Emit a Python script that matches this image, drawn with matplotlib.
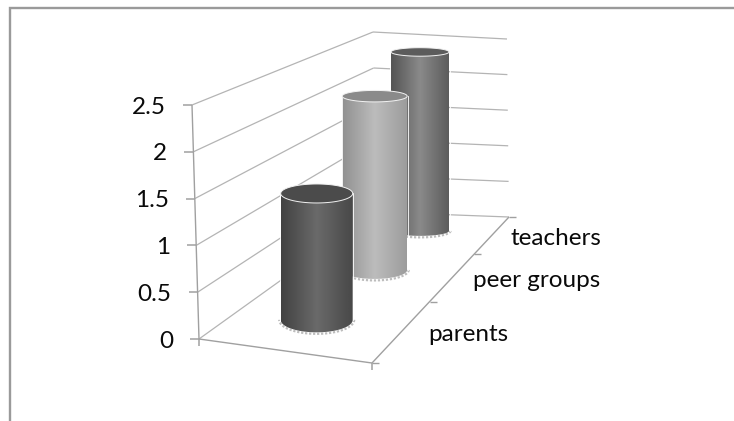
"""Three cylinders on a perspective floor, drawn on a pixel-sized canvas."""
import matplotlib
matplotlib.use("Agg")
import matplotlib.pyplot as plt
import numpy as np
from matplotlib.patches import Polygon

categories = ["parents", "peer groups", "teachers"]
values = [1.43, 2.16, 2.41]
y_ticks = [0, 0.5, 1, 1.5, 2, 2.5]
y_tick_labels = ["0", "0.5", "1", "1.5", "2", "2.5"]

Y_MAX = 2.5
PERSPECTIVE = 0.69

# box corners on the canvas: (side, depth, level)
CORNERS = {
    (0, 0, 0): (199, 339), (1, 0, 0): (372, 363),
    (0, 1, 0): (376, 212), (1, 1, 0): (509, 217),
    (0, 0, 1): (192, 105), (1, 0, 1): (365, 131),
    (0, 1, 1): (373, 32), (1, 1, 1): (507, 39),
}

# cylinder looks, front to back
WIDTHS = [72, 65, 58]
TOP_H = [19, 11.5, 8.5]
BASE_H = [25, 18, 10]
SHADES = [
    ("#424242", "#6a6a6a", "#484848", "#4b4b4b"),
    ("#909090", "#bcbcbc", "#9c9c9c", "#8a8a8a"),
    ("#545454", "#8a8a8a", "#5c5c5c", "#5c5c5c"),
]
LABEL_DX = [25, 20, 18]

GRID = "#b4b4b4"
AXIS = "#a0a0a0"
FRAME = "#9a9a9a"
TEXT = "#0a0a0a"
FONT_SIZE = 17.5


def warp(t):
    return t / (t + PERSPECTIVE * (1 - t))


def project(side, cat_depth, value):
    """Map side (0-1), depth in categories and a value to canvas pixels."""
    t = warp(cat_depth / len(categories))
    v = value / Y_MAX
    out = np.zeros(2)
    for (a, b, c), xy in CORNERS.items():
        w = (side if a else 1 - side) * (t if b else 1 - t) * (v if c else 1 - v)
        out += w * np.array(xy)
    return out


def seg(ax, p, q, color=GRID, lw=0.9, z=1):
    ax.plot([p[0], q[0]], [p[1], q[1]], color=color, lw=lw, zorder=z,
            solid_capstyle="butt")


fig = plt.figure(figsize=(7.34, 4.21), dpi=100)
ax = fig.add_axes([0, 0, 1, 1])
ax.set_xlim(0, 734)
ax.set_ylim(421, 0)
ax.axis("off")
plt.rcParams["font.family"] = ["Lato", "DejaVu Sans"]

# outer chart frame, open on the right and at the bottom
ax.plot([9.5, 9.5, 734], [421, 7.5, 7.5], color=FRAME, lw=1.7, zorder=1,
        solid_joinstyle="miter")

# walls
n = len(categories)
for tick, label in zip(y_ticks, y_tick_labels):
    front = project(0, 0, tick)
    corner = project(0, n, tick)
    seg(ax, front, corner)
    seg(ax, corner, project(1, n, tick))
    seg(ax, front + [-9, 0], front, color=AXIS, lw=1.1)
    ax.text(front[0] - 26, front[1], label, ha="right", va="center_baseline",
            fontsize=FONT_SIZE, color=TEXT)
seg(ax, project(0, 0, 0), project(0, 0, Y_MAX), color=AXIS, lw=1.0)

# floor edges and depth ticks
seg(ax, project(0, 0, 0), project(1, 0, 0), color=AXIS, lw=1.0)
seg(ax, project(1, 0, 0), project(1, n, 0), color=AXIS, lw=1.0)
seg(ax, project(0, 0, 0), project(0, 0, 0) + [0, 7], color=AXIS, lw=1.1)
seg(ax, project(1, 0, 0), project(1, 0, 0) + [0, 7], color=AXIS, lw=1.1)
for d in range(n + 1):
    p = project(1, d, 0)
    seg(ax, p, p + [7, 0], color=AXIS, lw=1.0)

for i, name in enumerate(categories):
    p = project(1, i + 0.5, 0)
    ax.text(p[0] + LABEL_DX[i], p[1] + 2, name, ha="left", va="center_baseline",
            fontsize=FONT_SIZE, color=TEXT)

# cylinders, drawn back to front
theta = np.linspace(0, np.pi, 80)
for i in reversed(range(n)):
    base = project(0.475, i + 0.5, 0)
    top = project(0.475, i + 0.5, values[i])
    half = WIDTHS[i] / 2
    cx = base[0]
    top_y, base_y = top[1], base[1]
    z = 10 + (n - i) * 3

    # dotted halo round the foot
    halo_x = cx + (half + 1.5) * np.cos(theta)
    halo_y = base_y + (BASE_H[i] / 2 + 1.5) * np.sin(theta)
    ax.plot(halo_x, halo_y, color="#bdbdbd", lw=1.6, ls=(0, (1, 0.8)), zorder=z)

    # body: sides plus the lower half of the foot ellipse
    outline = np.column_stack([
        np.r_[cx - half, cx + half * np.cos(theta[::-1])],
        np.r_[top_y, base_y + BASE_H[i] / 2 * np.sin(theta[::-1])],
    ])
    outline = np.vstack([outline, [cx + half, top_y]])
    body = Polygon(outline, closed=True, facecolor="none", edgecolor="none")
    ax.add_patch(body)
    left, mid, right, cap = SHADES[i]
    ramp = [np.array(matplotlib.colors.to_rgb(left)),
            np.array(matplotlib.colors.to_rgb(mid)),
            np.array(matplotlib.colors.to_rgb(right))]
    s = np.linspace(0, 1, 120)
    grad = np.array([ramp[0] + (ramp[1] - ramp[0]) * u / 0.5 if u < 0.5
                     else ramp[1] + (ramp[2] - ramp[1]) * (u - 0.5) / 0.5
                     for u in s])[None, :, :]
    im = ax.imshow(grad, extent=[cx - half, cx + half, base_y + BASE_H[i], top_y],
                   aspect="auto", zorder=z + 1, interpolation="bilinear")
    im.set_clip_path(body)
    ax.plot([cx - half - 0.6, cx - half - 0.6], [top_y, base_y], color="white",
            lw=0.6, zorder=z + 1)
    ax.plot([cx + half + 0.6, cx + half + 0.6], [top_y, base_y], color="white",
            lw=0.6, zorder=z + 1)

    # cap
    a = np.linspace(0, 2 * np.pi, 120)
    cap_xy = np.column_stack([cx + half * np.cos(a),
                              top_y + TOP_H[i] / 2 * np.sin(a)])
    ax.add_patch(Polygon(cap_xy, closed=True, facecolor=cap, edgecolor="#f2f2f2",
                         lw=0.7, zorder=z + 2))

ax.set_xlim(0, 734)
ax.set_ylim(421, 0)
fig.savefig("out.png", dpi=100, facecolor="white")
